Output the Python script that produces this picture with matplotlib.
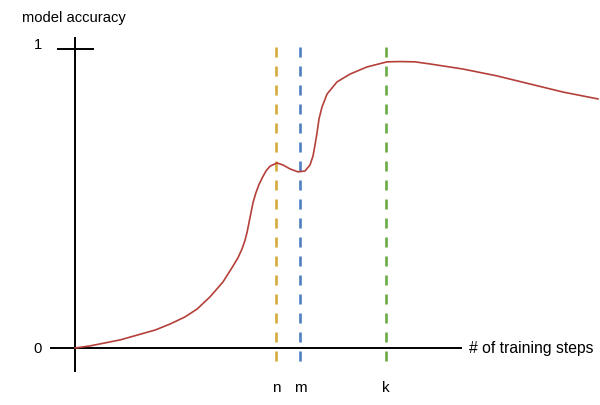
import matplotlib
matplotlib.use("Agg")
import matplotlib.pyplot as plt

plt.rcParams['font.family'] = ['Liberation Sans', 'DejaVu Sans']

# training steps (arbitrary units) and model accuracy
steps = [0, 15, 30, 45, 62, 80, 95, 110, 122, 135, 148, 158, 163, 167, 170, 172,
         175, 178, 181, 184, 188, 191, 195, 202, 208, 215, 223, 230, 235, 238,
         240, 242, 244, 247, 252, 262, 275, 292, 312, 325, 340, 355, 388, 422,
         455, 488, 523]
accuracy = [0.000, 0.007, 0.017, 0.027, 0.043, 0.060, 0.080, 0.104, 0.130,
            0.171, 0.221, 0.274, 0.302, 0.331, 0.360, 0.386, 0.436, 0.486,
            0.520, 0.547, 0.574, 0.592, 0.608, 0.619, 0.612, 0.599, 0.589,
            0.592, 0.612, 0.642, 0.679, 0.719, 0.766, 0.806, 0.849, 0.890,
            0.916, 0.940, 0.957, 0.958, 0.957, 0.950, 0.933, 0.910, 0.883,
            0.856, 0.833]

marker_labels = ['n', 'm', 'k']
marker_steps = [201, 225, 311]
marker_colors = ['#d6aa3c', '#4f7fc1', '#6aab45']

fig = plt.figure(figsize=(6.0, 4.06), dpi=100)
ax = fig.add_axes([0, 0, 1, 1])
ax.set_xlim(-75, 525)
ax.set_ylim(-57 / 299, 349 / 299)
ax.axis('off')

def py(p):
    return (349 - p) / 299

# axes lines
ax.plot([0, 0], [py(38), py(373)], color='black', lw=1.4, solid_capstyle='butt')
ax.plot([-25, 387], [0, 0], color='black', lw=1.4, solid_capstyle='butt')
ax.plot([-18, 19], [1, 1], color='black', lw=1.4, solid_capstyle='butt')

# dashed markers
for lab, s, c in zip(marker_labels, marker_steps, marker_colors):
    ax.plot([s, s], [py(48), py(371)], color=c, lw=1.9, dashes=(3.8, 3.4))
    ax.text(s, py(388), lab, ha='center', va='center', fontsize=11)

# curve
ax.plot(steps, accuracy, color='#b5403a', lw=1.2, solid_joinstyle='round')

ax.text(-53, py(18), 'model accuracy', ha='left', va='center', fontsize=10.6)
ax.text(-37, 1 + 5 / 299, '1', ha='center', va='center', fontsize=10.6)
ax.text(-37, 0, '0', ha='center', va='center', fontsize=10.6)
ax.text(394, 0, '# of training steps', ha='left', va='center', fontsize=11.3)

fig.savefig('out.png', dpi=100)
